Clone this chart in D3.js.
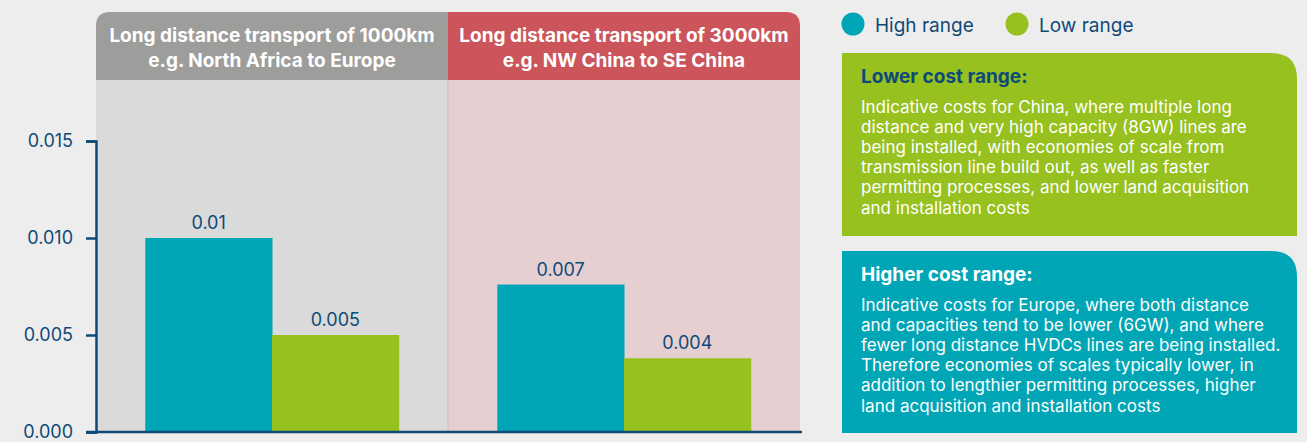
<!DOCTYPE html>
<html><head><meta charset="utf-8">
<script src="https://cdn.jsdelivr.net/npm/d3@7"></script>
<style>
html,body{margin:0;padding:0;background:#ededed;}
svg{display:block;font-family:Inter,"Open Sans",sans-serif;}
</style></head>
<body>
<svg id="chart" width="1307" height="442"></svg>
<script>
// ---- data ----
const groups = ["1000km", "3000km"];
const groupTitles = [
  ["Long distance transport of 1000km", "e.g. North Africa to Europe"],
  ["Long distance transport of 3000km", "e.g. NW China to SE China"]
];
const seriesNames = ["High range", "Low range"];
const highValues = [0.01, 0.0076];
const lowValues = [0.005, 0.0038];
const highLabels = ["0.01", "0.007"];
const lowLabels = ["0.005", "0.004"];
const yTicks = [0, 0.005, 0.010, 0.015];
const lowerTitle = "Lower cost range:";
const lowerText = [
  "Indicative costs for China, where multiple long",
  "distance and very high capacity (8GW) lines are",
  "being installed, with economies of scale from",
  "transmission line build out, as well as faster",
  "permitting processes, and lower land acquisition",
  "and installation costs"
];
const higherTitle = "Higher cost range:";
const higherText = [
  "Indicative costs for Europe, where both distance",
  "and capacities tend to be lower (6GW), and where",
  "fewer long distance HVDCs lines are being installed.",
  "Therefore economies of scales typically lower, in",
  "addition to lengthier permitting processes, higher",
  "land acquisition and installation costs"
];

// ---- styles ----
const C = {
  high: "#00a5b6", low: "#96c11f", axis: "#0e4a78",
  headL: "#9d9d9b", headR: "#cc545b", bodyL: "#dadada", bodyR: "#e5cfd1"
};

const svg = d3.select("#chart");
const x0 = 96, x1 = 800, yTop = 141, yBot = 432;
const x = d3.scaleBand().domain(groups).range([x0, x1]).paddingInner(0.28).paddingOuter(0.14);
const xs = d3.scaleBand().domain(seriesNames).range([0, x.bandwidth()]);
const y = d3.scaleLinear().domain([0, 0.015]).range([yBot, yTop]);
const step = x.step();

// panels
const panelTop = 12, headH = 68, r = 14;
groups.forEach((g, i) => {
  const left = x0 + i * step, w = step;
  let p;
  if (i === 0) {
    p = `M${left},${panelTop + headH} V${panelTop + r} Q${left},${panelTop} ${left + r},${panelTop} H${left + w} V${panelTop + headH} Z`;
  } else {
    p = `M${left},${panelTop + headH} V${panelTop} H${left + w - r} Q${left + w},${panelTop} ${left + w},${panelTop + r} V${panelTop + headH} Z`;
  }
  svg.append("rect").attr("x", left).attr("y", panelTop + headH).attr("width", w)
    .attr("height", yBot - panelTop - headH).attr("fill", i === 0 ? C.bodyL : C.bodyR);
  svg.append("path").attr("d", p).attr("fill", i === 0 ? C.headL : C.headR);
  const t = svg.append("text").attr("x", left + w / 2).attr("text-anchor", "middle")
    .attr("fill", "#fff").attr("font-weight", 700).attr("font-size", 19);
  groupTitles[i].forEach((line, k) => {
    t.append("tspan").attr("x", left + w / 2).attr("y", 42 + k * 25).text(line);
  });
});
// divider
svg.append("line").attr("x1", x0 + step).attr("x2", x0 + step).attr("y1", panelTop + headH)
  .attr("y2", yBot).attr("stroke", "#d9b9bc").attr("stroke-width", 1);

// bars
const data = groups.map((g, i) => ({ g, vals: [highValues[i], lowValues[i]], labs: [highLabels[i], lowLabels[i]] }));
const gg = svg.selectAll("g.grp").data(data).join("g").attr("class", "grp")
  .attr("transform", d => `translate(${x(d.g)},0)`);
gg.selectAll("rect").data(d => d.vals.map((v, k) => ({ v, s: seriesNames[k] })))
  .join("rect")
  .attr("x", d => xs(d.s)).attr("width", xs.bandwidth() + 0.5)
  .attr("y", d => y(d.v)).attr("height", d => y(0) - y(d.v))
  .attr("fill", d => d.s === "High range" ? C.high : C.low);
gg.selectAll("text").data(d => d.vals.map((v, k) => ({ v, s: seriesNames[k], l: d.labs[k] })))
  .join("text")
  .attr("x", d => xs(d.s) + xs.bandwidth() / 2).attr("y", d => y(d.v) - 9)
  .attr("text-anchor", "middle").attr("fill", C.axis).attr("font-size", 18).text(d => d.l);

// y axis
const yAxis = d3.axisLeft(y).tickValues(yTicks).tickFormat(d3.format(".3f")).tickSize(10).tickPadding(13);
const ya = svg.append("g").attr("transform", `translate(${x0},0)`).call(yAxis);
ya.select(".domain").attr("stroke", C.axis).attr("stroke-width", 2.5);
ya.selectAll(".tick line").attr("stroke", C.axis).attr("stroke-width", 2.5);
ya.selectAll(".tick text").attr("fill", C.axis).attr("font-size", 18).attr("font-family", "Inter, sans-serif");
// baseline
svg.append("line").attr("x1", x0 - 10).attr("x2", x1 + 2).attr("y1", yBot).attr("y2", yBot)
  .attr("stroke", C.axis).attr("stroke-width", 2.5);

// legend
const leg = svg.append("g");
const legX = [853, 1017];
seriesNames.forEach((s, i) => {
  leg.append("circle").attr("cx", legX[i]).attr("cy", 24).attr("r", 11.5)
    .attr("fill", i === 0 ? C.high : C.low);
  leg.append("text").attr("x", legX[i] + 22).attr("y", 32).attr("fill", C.axis)
    .attr("font-size", 19).text(s);
});

// info boxes
function box(y0, h, fill, title, titleColor, lines) {
  const bx = 842, bw = 455, rr = 26;
  svg.append("path").attr("d",
    `M${bx},${y0} H${bx + bw - rr} Q${bx + bw},${y0} ${bx + bw},${y0 + rr} V${y0 + h} H${bx} Z`)
    .attr("fill", fill);
  svg.append("text").attr("x", 861).attr("y", y0 + 30).attr("fill", titleColor)
    .attr("font-weight", 700).attr("font-size", 19).text(title);
  const t = svg.append("text").attr("fill", "#fff").attr("font-size", 17);
  lines.forEach((l, k) => t.append("tspan").attr("x", 861).attr("y", y0 + 59.5 + k * 20.2).text(l));
}
box(53, 183, C.low, lowerTitle, C.axis, lowerText);
box(251, 182, C.high, higherTitle, "#fff", higherText);
</script>
</body></html>
